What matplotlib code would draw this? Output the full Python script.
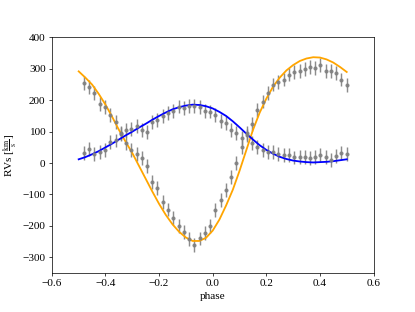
import numpy as np
import matplotlib.pyplot as plt

plt.rcParams['font.family'] = ['Liberation Serif', 'DejaVu Serif']
plt.rcParams['mathtext.fontset'] = 'stix'
plt.rcParams['font.size'] = 12.5

# folded observation phases
phase = [-0.480, -0.460, -0.441, -0.421, -0.402, -0.382, -0.362, -0.343, -0.323, -0.304,
         -0.284, -0.264, -0.245, -0.225, -0.206, -0.186, -0.166, -0.147, -0.127, -0.108,
         -0.088, -0.068, -0.049, -0.029, -0.010, 0.010, 0.030, 0.049, 0.069, 0.088,
         0.108, 0.128, 0.147, 0.167, 0.186, 0.206, 0.226, 0.245, 0.265, 0.284,
         0.304, 0.324, 0.343, 0.363, 0.382, 0.402, 0.422, 0.441, 0.461, 0.480, 0.500]

# measured RVs of component A (big amplitude) and B
rv_a = [255, 242, 223, 188, 178, 152, 132, 95, 65, 42,
        30, 15, -10, -60, -80, -125, -148, -175, -200, -220,
        -243, -262, -240, -222, -200, -150, -118, -85, -45, 0,
        50, 95, 125, 170, 196, 222, 250, 258, 266, 282,
        290, 292, 300, 306, 303, 312, 293, 292, 287, 266, 248]
rv_b = [33, 45, 30, 36, 42, 66, 72, 92, 104, 108,
        118, 105, 100, 132, 138, 150, 160, 166, 180, 176,
        182, 183, 178, 166, 164, 152, 134, 128, 105, 95,
        80, 88, 63, 52, 42, 36, 36, 30, 26, 26,
        18, 20, 20, 15, 20, 26, 20, 10, 22, 31, 30]
rv_err = 22

# model curves, sampled every 0.025 in phase
model_phase = [-0.500, -0.475, -0.450, -0.425, -0.400, -0.375, -0.350, -0.325, -0.300, -0.275,
               -0.250, -0.225, -0.200, -0.175, -0.150, -0.125, -0.100, -0.075, -0.050, -0.025,
               0.000, 0.025, 0.050, 0.075, 0.100, 0.125, 0.150, 0.175, 0.200, 0.225,
               0.250, 0.275, 0.300, 0.325, 0.350, 0.375, 0.400, 0.425, 0.450, 0.475, 0.500]
model_a = [292, 272, 250, 220, 186, 147, 106, 68, 32, -9,
           -50, -91, -130, -165, -195, -219, -237, -248, -248, -238,
           -215, -180, -135, -85, -25, 40, 105, 160, 205, 243,
           272, 295, 312, 325, 333, 337, 336, 330, 320, 306, 290]
model_b = [12, 19, 28, 38, 50, 62, 75, 88, 100, 113,
           125, 138, 150, 161, 171, 178, 183, 186, 185, 181,
           174, 163, 150, 133, 114, 94, 75, 57, 42, 30,
           20, 13, 8, 5, 3, 2, 3, 4, 6, 9, 12]

fig, ax = plt.subplots(figsize=(6.385, 4.8), dpi=65)
fig.subplots_adjust(left=0.125, right=0.9, top=0.88, bottom=0.125)

ax.errorbar(phase, rv_a, yerr=rv_err, fmt='o', color='gray', ms=3.5, elinewidth=1.6, alpha=0.9)
ax.errorbar(phase, rv_b, yerr=rv_err, fmt='o', color='gray', ms=3.5, elinewidth=1.6, alpha=0.9)
ax.plot(model_phase, model_a, color='orange', lw=2)
ax.plot(model_phase, model_b, color='blue', lw=2)

ax.set_xlim(-0.6, 0.6)
ax.set_ylim(-350, 400)
ax.set_xlabel('phase')
ax.set_ylabel(r'RVs [$\frac{\rm km}{\rm s}$]')

plt.savefig('out.png', dpi=65)
